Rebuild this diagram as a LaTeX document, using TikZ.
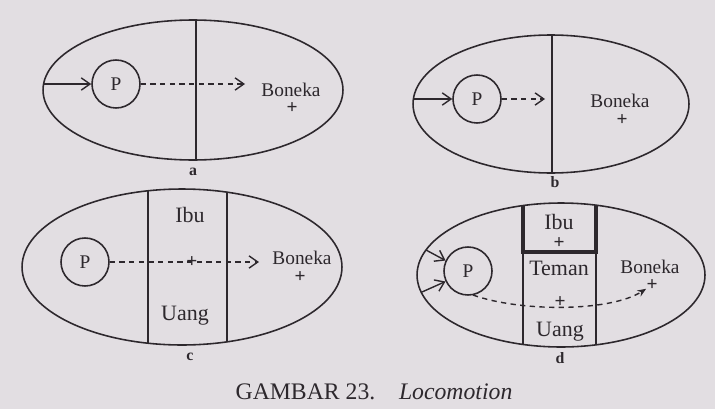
\documentclass[tikz,border=0pt]{standalone}
\usepackage{amsmath,amssymb}
\usepackage{fontspec}
\setmainfont{Liberation Serif}
\usepackage{tikz}
\usetikzlibrary{arrows.meta}
\definecolor{paper}{RGB}{226,222,226}
\definecolor{ink}{RGB}{45,40,45}

\begin{document}
\begin{tikzpicture}[x=0.02cm,y=-0.02cm,
	every node/.style={font=\fontsize{11}{13}\selectfont, text=ink, inner sep=1pt},
	region/.style={draw=ink, line width=0.9pt},
	wall/.style={draw=ink, line width=2.2pt},
	person/.style={circle, draw=ink, line width=0.9pt, minimum size=0.96cm, inner sep=0pt},
	push/.style={draw=ink, line width=0.8pt, -{Straight Barb[length=5pt,width=7pt]}},
	goal/.style={draw=ink, line width=0.8pt, dash pattern=on 3pt off 2.5pt, -{Straight Barb[length=5pt,width=7pt]}},
	goalc/.style={draw=ink, line width=0.8pt, dash pattern=on 3pt off 2.5pt, -{Stealth[length=5pt,width=4pt]}},
	field/.style={font=\fontsize{12.5}{14}\selectfont},
	dot/.style={font=\fontsize{11}{13}\selectfont\bfseries, inner sep=0pt},
	tag/.style={font=\small\bfseries}]
	\fill[paper] (0,0) rectangle (715,409);
	\useasboundingbox (0,0) rectangle (715,409);

	\draw[region] (193,90) ellipse [x radius=3cm, y radius=1.4cm];
	\begin{scope}
		\clip (193,90) ellipse [x radius=3cm, y radius=1.4cm];
		\draw[region] (196,0) -- (196,200);
	\end{scope}
	\node[person] (Pa) at (116,84) {P};
	\coordinate (ina) at (43,84);
	\draw[push] (ina) -- (Pa);
	\node (Ba) at (291,90) {Boneka};
	\node[dot] (ba) at (292,108) {+};
	\coordinate (ga) at (245,84);
	\draw[goal] (Pa) -- (ga);
	\node[tag] (la) at (193,172) {a};

	\draw[region] (551,104) ellipse [x radius=2.76cm, y radius=1.38cm];
	\begin{scope}
		\clip (551,104) ellipse [x radius=2.76cm, y radius=1.38cm];
		\draw[region] (552,0) -- (552,200);
	\end{scope}
	\node[person] (Pb) at (477,99) {P};
	\coordinate (inb) at (413,99);
	\draw[push] (inb) -- (Pb);
	\node (Bb) at (620,101) {Boneka};
	\node[dot] (bb) at (622,120) {+};
	\coordinate (gb) at (545,99);
	\draw[goal] (Pb) -- (gb);
	\node[tag] (lb) at (555,182) {b};

	\draw[region] (182,267) ellipse [x radius=3.2cm, y radius=1.56cm];
	\begin{scope}
		\clip (182,267) ellipse [x radius=3.2cm, y radius=1.56cm];
		\draw[region] (148,180) -- (148,360);
		\draw[region] (227,180) -- (227,360);
	\end{scope}
	\node[field] (Ic) at (190,215) {Ibu};
	\node[field] (Uc) at (185,316) {Uang};
	\node[person] (Pc) at (85,262) {P};
	\node[dot] (mc) at (192,262) {+};
	\coordinate (gc) at (259,262);
	\draw[goal] (Pc) -- (gc);
	\node (Bc) at (302,258) {Boneka};
	\node[dot] (bc) at (300,277) {+};
	\node[tag] (lc) at (190,357) {c};

	\draw[region] (561,275) ellipse [x radius=2.88cm, y radius=1.44cm];
	\begin{scope}
		\clip (561,275) ellipse [x radius=2.88cm, y radius=1.44cm];
		\draw[region] (523,250) -- (523,360);
		\draw[region] (596,250) -- (596,360);
		\draw[wall] (523,190) -- (523,252) -- (596,252) -- (596,190);
	\end{scope}
	\node[field] (Id) at (559,222) {Ibu};
	\node[dot] (id) at (559,243) {+};
	\node[field] (Td) at (559,268) {Teman};
	\node[dot] (md) at (560,302) {+};
	\node[field] (Ud) at (560,332) {Uang};
	\node[person] (Pd) at (468,271) {P};
	\coordinate (ind1) at (426,250);
	\coordinate (ind2) at (422,292);
	\draw[push] (ind1) -- (Pd.155);
	\draw[push] (ind2) -- (Pd.205);
	\node (Bd) at (650,267) {Boneka};
	\node[dot] (bd) at (652,285) {+};
	\coordinate (sd) at (473,295);
	\draw[goalc] (sd) .. controls (520,312) and (610,312) .. (bd);
	\node[tag] (ld) at (560,358) {d};

	\node[font=\fontsize{13.5}{16}\selectfont] (cap) at (374,392) {GAMBAR 23.\quad\textit{Locomotion}};
\end{tikzpicture}
\end{document}
